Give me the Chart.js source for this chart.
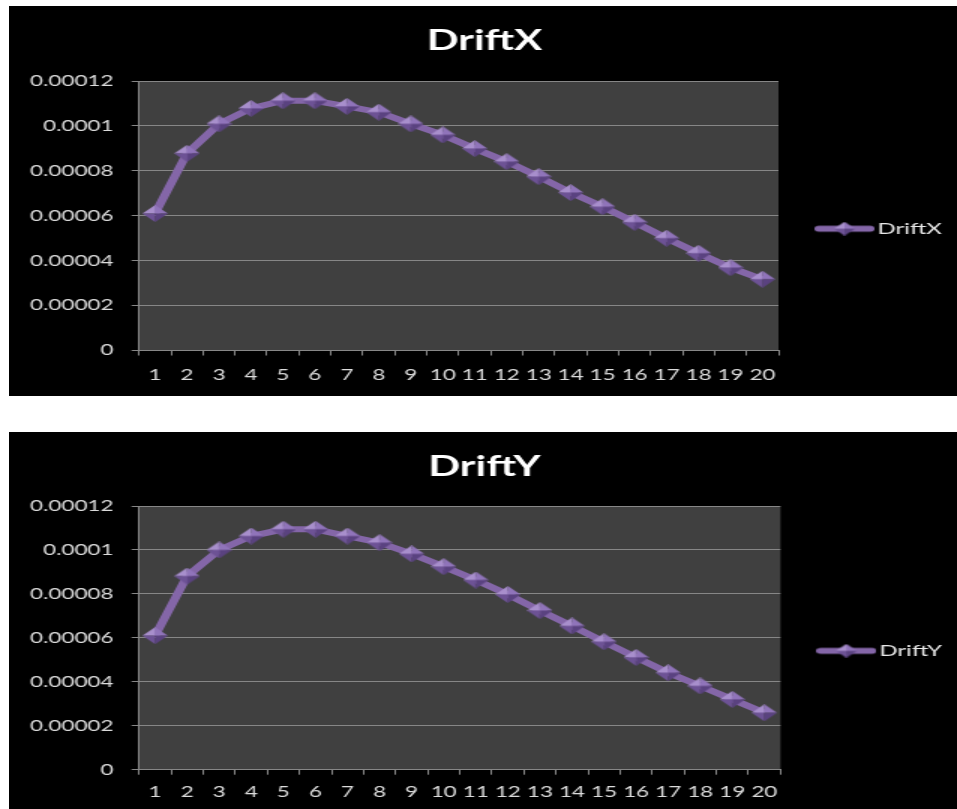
<!DOCTYPE html>
<html>
<head>
<meta charset="utf-8">
<title>DriftX / DriftY</title>
<script src="https://cdn.jsdelivr.net/npm/chart.js@4.4.1/dist/chart.umd.min.js"></script>
<style>
    html, body { margin: 0; padding: 0; background: #fff; }
    body { width: 957px; height: 809px; position: relative; overflow: hidden; }
    canvas { position: absolute; left: 9px; background: #000; }
</style>
</head>
<body>
<!-- the original picture is a horizontally stretched screenshot, so the canvases are drawn narrow and stretched by CSS -->
<canvas id="driftX" width="632" height="390" style="top:6px;width:948px;height:390px"></canvas>
<canvas id="driftY" width="632" height="377" style="top:432px;width:948px;height:377px"></canvas>
<script>
// x categories
const steps = ['1', '2', '3', '4', '5', '6', '7', '8', '9', '10',
               '11', '12', '13', '14', '15', '16', '17', '18', '19', '20'];

// series values
const driftX = [0.0000610, 0.0000878, 0.0001009, 0.0001078, 0.0001112, 0.0001112, 0.0001087,
                0.0001061, 0.0001009, 0.0000960, 0.0000899, 0.0000841, 0.0000774, 0.0000703,
                0.0000640, 0.0000571, 0.0000500, 0.0000433, 0.0000369, 0.0000317];
const driftY = [0.0000610, 0.0000881, 0.0001000, 0.0001063, 0.0001094, 0.0001094, 0.0001063,
                0.0001033, 0.0000982, 0.0000924, 0.0000863, 0.0000797, 0.0000724, 0.0000654,
                0.0000582, 0.0000511, 0.0000441, 0.0000381, 0.0000320, 0.0000259];

// y tick labels, bottom to top
const yTickLabels = ['0', '0.00002', '0.00004', '0.00006', '0.00008', '0.0001', '0.00012'];

const FONT = 'Lato, "Open Sans", sans-serif';
const LINE = '#8466a8';
const GRID = '#878787';
const TEXT = '#dcdcdc';

// bevelled diamond marker, like the excel one
function makeDiamond(size) {
    const c = document.createElement('canvas');
    c.width = size;
    c.height = size;
    const g = c.getContext('2d');
    const h = size / 2;
    const faces = [
        ['#a88fcc', [h, 0], [0, h]],
        ['#9074ba', [h, 0], [size, h]],
        ['#6d5295', [0, h], [h, size]],
        ['#5a4280', [size, h], [h, size]]
    ];
    faces.forEach(f => {
        g.fillStyle = f[0];
        g.beginPath();
        g.moveTo(f[1][0], f[1][1]);
        g.lineTo(f[2][0], f[2][1]);
        g.lineTo(h, h);
        g.closePath();
        g.fill();
    });
    return c;
}

// legend symbol: line with a diamond on it
function makeLegendMark(diamond) {
    const c = document.createElement('canvas');
    c.width = 40;
    c.height = 15;
    const g = c.getContext('2d');
    g.strokeStyle = LINE;
    g.lineWidth = 6;
    g.lineCap = 'round';
    g.beginPath();
    g.moveTo(3, 7.5);
    g.lineTo(37, 7.5);
    g.stroke();
    g.drawImage(diamond, 20 - diamond.width / 2, 7.5 - diamond.height / 2);
    return c;
}

const diamond = makeDiamond(17);
const legendMark = makeLegendMark(makeDiamond(14));

// dark grey plot area
const plotBackground = {
    id: 'plotBackground',
    beforeDraw(chart) {
        const a = chart.chartArea;
        const ctx = chart.ctx;
        ctx.save();
        ctx.fillStyle = '#404040';
        ctx.fillRect(a.left, a.top, a.right - a.left, a.bottom - a.top);
        ctx.restore();
    }
};

function makeDriftChart(canvasId, name, values, fit) {
    const ctx = document.getElementById(canvasId).getContext('2d');
    return new Chart(ctx, {
        type: 'line',
        data: {
            labels: steps,
            datasets: [{
                label: name,
                data: values,
                borderColor: LINE,
                backgroundColor: LINE,
                borderWidth: 6,
                pointStyle: diamond,
                pointRadius: 8,
                tension: 0
            }]
        },
        options: {
            responsive: false,
            animation: false,
            layout: { padding: { left: 2, right: 0, top: 0, bottom: fit.bottom } },
            plugins: {
                title: {
                    display: true,
                    text: name,
                    color: '#ffffff',
                    font: { family: FONT, size: 28, weight: 'bold' },
                    padding: { top: 17.7, bottom: fit.titleBottom }
                },
                legend: {
                    position: 'right',
                    fullSize: false,
                    align: 'center',
                    title: { display: true, text: ' ', font: { size: 10 }, padding: 7 },
                    labels: {
                        usePointStyle: true,
                        pointStyle: legendMark,
                        pointStyleWidth: 28,
                        padding: 30,
                        color: '#e8e8e8',
                        font: { family: FONT, size: 16 }
                    }
                },
                tooltip: { enabled: false }
            },
            scales: {
                x: {
                    offset: true,
                    grid: { offset: true, drawOnChartArea: false, color: GRID, tickLength: 5 },
                    border: { color: GRID },
                    ticks: {
                        color: TEXT,
                        font: { family: FONT, size: 15 },
                        padding: fit.xPad,
                        maxRotation: 0,
                        autoSkip: false
                    }
                },
                y: {
                    min: 0,
                    max: 0.00012,
                    grid: { color: GRID, tickLength: 5 },
                    border: { color: GRID },
                    ticks: {
                        stepSize: 0.00002,
                        color: TEXT,
                        font: { family: FONT, size: 15 },
                        padding: 12,
                        callback: (value, index) => yTickLabels[index]
                    }
                }
            }
        },
        plugins: [plotBackground]
    });
}

makeDriftChart('driftX', 'DriftX', driftX, { bottom: 1.5, xPad: 10.5, titleBottom: 23.7 });
makeDriftChart('driftY', 'DriftY', driftY, { bottom: 0.3, xPad: 8, titleBottom: 22.7 });
</script>
</body>
</html>
